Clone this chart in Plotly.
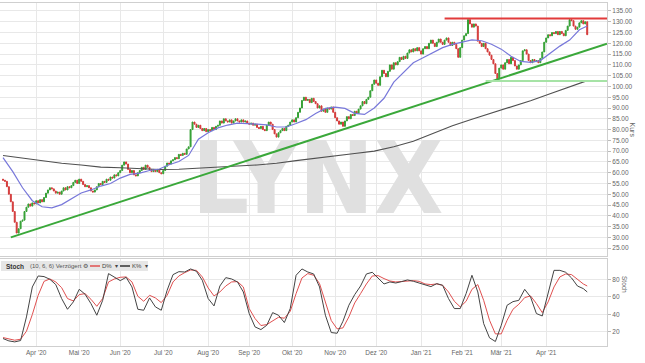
import plotly.graph_objects as go
import pandas as pd

# ---------------- data ----------------
start_date = "2020-03-09"
n_days = 300
closes = [
    56.5, 56, 53.5, 50, 46.5, 42, 37, 32, 34, 37.5,
    38, 42, 44, 45.5, 44.5, 46, 45.5, 47, 46, 47.5,
    46.5, 48.5, 50.5, 52, 53, 52.5, 51.5, 50.5, 51, 50,
    51.5, 53, 52, 53.5, 53, 54, 55.5, 56.5, 55, 57,
    56, 54.5, 53.5, 54, 53, 51.5, 51, 52, 53.5, 55,
    54.5, 56, 55.5, 57, 56.5, 58, 57.5, 59, 58.5, 60,
    61, 63.5, 65, 64, 61.5, 60, 61, 59, 58.5, 60,
    61, 62.5, 61.5, 63.5, 62.5, 61.5, 60.5, 61.5, 60.5, 61.5,
    60, 59.5, 61, 63, 64.5, 64, 65.5, 66, 67, 66.5,
    68.5, 68, 69, 68.5, 71, 72, 80, 83.5, 82.5, 81,
    82, 80.5, 79.5, 80.5, 79, 80, 79.5, 81, 80, 81.5,
    82, 84, 83, 85, 84, 83.5, 84.5, 83, 84, 85,
    84, 83.5, 84.5, 83.5, 84, 83, 82.5, 83, 82, 82.5,
    81, 80.5, 81.5, 80, 79.5, 82, 83.5, 82.5, 80, 78,
    76.5, 78.5, 79.5, 80.5, 79.5, 81.5, 82, 83.5, 84.5, 83.5,
    85.5, 88, 90, 93.5, 95, 93.5, 94, 92.5, 94.5, 93,
    92, 90, 91, 88.5, 89.5, 88, 90, 89.5, 90.5, 88,
    85.5, 84, 82.5, 83.5, 81.5, 84, 86, 85, 87, 86.5,
    88.5, 87.5, 89.5, 91, 93, 92, 94, 95, 98, 101,
    103, 101.5, 100.5, 104.5, 107.5, 106, 104.5, 107, 110, 108,
    111, 110, 111.5, 113.5, 112.5, 114, 113, 115.5, 117, 116,
    117.5, 116.5, 118, 116.5, 115, 117.5, 118.5, 117.5, 120, 121.5,
    120, 118.5, 120.5, 122, 120.5, 119.5, 121.5, 122.5, 120.5, 119,
    120.5, 119.5, 117.5, 113.5, 118, 121.5, 123.5, 124.5, 131, 129,
    127.5, 129, 128, 121, 120, 118.5, 120, 117.5, 116, 114.5,
    112.5, 110.5, 106, 103.5, 108.5, 110, 108, 111, 112.5, 110.5,
    113.5, 112, 109.5, 108, 110, 112, 116.5, 117, 115, 112,
    111, 112.5, 111.5, 112, 111, 113, 116, 120.5, 122.5, 124,
    123.5, 125, 124.5, 125.5, 124, 125.5, 124.5, 123.5, 126, 128,
    131, 130.5, 128, 126.5, 127.5, 129.5, 130.5, 129, 130, 124,
]
first_open = 57.0

# blue moving average, read every 5th trading day (+ last day)
ma_short = [67, 60.5, 53, 47, 44.2, 43.7, 45.2, 47.8, 50.6, 52,
            53.8, 55, 57.5, 59.2, 59.8, 61, 61.7, 63.7, 65.2, 68,
            75.5, 78.5, 80.8, 82.1, 83, 82.8, 82.6, 82.2, 81.2, 81.2,
            82.8, 84.6, 87.5, 89.8, 90.4, 89.8, 87.5, 87, 90, 94.5,
            102, 106.5, 111, 113.3, 115.7, 118, 119.5, 120.5, 121.6, 121.2,
            119.6, 117.3, 114, 111.6, 111.2, 112, 115.5, 118.7, 121.5, 126.3,
            128]
# black 200-day average, read every 10th trading day (+ last day)
ma_long = [68, 66.8, 65.4, 64.4, 63.6, 62.6, 62.3, 62, 61.5, 61.6,
           62, 62.6, 63.1, 63.6, 64.4, 65.6, 66.6, 67.8, 68.9, 70,
           72, 74.6, 78.3, 81.8, 84.8, 87.6, 90.5, 93.4, 96.6, 99.9,
           102.7]

# stochastic (10, 6, 6), read every 3rd trading day (+ last day)
stoch_k = [12.5, 9.8, 8.7, 10.2, 37.1, 71.2, 83.7, 83, 79.9, 73.9,
           58, 45.8, 54.2, 68.5, 62.9, 52.3, 39, 56, 86.4, 82.6,
           78.4, 82.2, 71.2, 45.8, 44.7, 58.7, 48.5, 44.7, 67.4, 85.2,
           88.6, 88.2, 91.7, 89, 78.8, 58, 49.6, 72.3, 81.8, 80.3,
           76.9, 65.5, 40.9, 25.7, 22.7, 27.6, 42, 39, 30.7, 46.6,
           84.5, 91.7, 88.2, 86, 71.2, 39, 19.3, 18.5, 32.2, 50.4,
           62.5, 72.3, 86, 87.9, 81.8, 74.6, 76.9, 75.7, 77.3, 79.2,
           77.7, 75.4, 73.9, 71.6, 75, 73.1, 58, 46.6, 46.6, 63.6,
           84.5, 65.5, 29.5, 13.3, 9.1, 27.6, 50.4, 54.5, 56, 68.5,
           59.8, 40.9, 38.2, 65.5, 90.1, 90.1, 87.9, 81.4, 72.3, 69.3,
           65.5]
stoch_d = [13.6, 12.1, 10.6, 11.7, 20.8, 39.8, 61.7, 77.6, 80.3, 76.9,
           70.4, 58, 55.3, 62.5, 63.6, 57.2, 49.2, 58, 76.9, 80.3,
           82.2, 82.6, 76.9, 60.6, 54.9, 61.7, 58.7, 53.4, 61.7, 76.9,
           83.7, 87.5, 90.5, 90.1, 82.6, 70.1, 61, 65.5, 72.3, 76.9,
           77.3, 71.2, 46.6, 35.2, 27.3, 28.4, 33, 36.7, 35.6, 43.5,
           63.6, 81.4, 86.4, 84.5, 75, 54.2, 33, 23.5, 24.6, 37.1,
           53, 63.6, 74.6, 83.7, 84.1, 80.7, 78, 76.9, 77.6, 77.6,
           78.4, 77.6, 74.6, 73.9, 74.6, 73.1, 65.5, 54.9, 48.5, 54.9,
           68.5, 73.9, 56, 33.3, 17.8, 17.8, 33.3, 45.8, 51.5, 59.1,
           61, 52.3, 42, 54.2, 71.2, 82.6, 86, 85.2, 79.9, 74.6,
           72.3]

trend_dates = ["2020-03-13", "2021-05-14 03:00"]
trend_vals = [30.0, 119.8]
resist_dates = ["2021-01-19", "2021-05-14 03:00"]
resist_vals = [131.5, 131.5]
support_dates = ["2021-02-17", "2021-05-14 03:00"]
support_vals = [102.5, 102.5]

month_labels = ["Apr '20", "Mai '20", "Jun '20", "Jul '20", "Aug '20", "Sep '20",
                "Okt '20", "Nov '20", "Dez '20", "Jan '21", "Feb '21", "Mär '21", "Apr '21"]
tick_months = pd.period_range("2020-04", "2021-04", freq="M")

# ---------------- derived ----------------
dates = pd.bdate_range(start_date, periods=n_days)
opens = [first_open] + closes[:-1]
highs = [max(o, c) for o, c in zip(opens, closes)]
lows = [min(o, c) for o, c in zip(opens, closes)]
x_short = list(dates[::5]) + [dates[-1]]
x_long = list(dates[::10]) + [dates[-1]]
x_stoch = list(dates[::3]) + [dates[-1]]
tickvals = [dates[dates >= p.start_time][0] for p in tick_months]

GREEN = "#35a035"
RED = "#d43a3a"
FONT = "Liberation Sans, Arial, sans-serif"
xrange = ["2020-03-05 11:00", "2021-05-14 03:00"]

fig = go.Figure()

# watermark
fig.add_trace(go.Scatter(
    x=[dates[161]], y=[53], mode="text", text=["LYNX"],
    textfont=dict(size=100, color="#e0e0e0", weight="bold",
                  family="Liberation Sans Narrow, DejaVu Sans Condensed, Liberation Sans"),
    hoverinfo="skip", showlegend=False, xaxis="x", yaxis="y"))

fig.add_trace(go.Scatter(x=x_long, y=ma_long, mode="lines",
                         line=dict(color="#505050", width=1.1), showlegend=False))
fig.add_trace(go.Scatter(x=trend_dates, y=trend_vals, mode="lines",
                         line=dict(color="#3aa83a", width=2), showlegend=False))
fig.add_trace(go.Scatter(x=support_dates, y=support_vals, mode="lines",
                         line=dict(color="#a6e3a6", width=2), showlegend=False))
fig.add_trace(go.Scatter(x=resist_dates, y=resist_vals, mode="lines",
                         line=dict(color="#e23b3b", width=2), showlegend=False))
fig.add_trace(go.Candlestick(
    x=dates, open=opens, high=highs, low=lows, close=closes,
    increasing=dict(line=dict(color=GREEN, width=1), fillcolor=GREEN),
    decreasing=dict(line=dict(color=RED, width=1), fillcolor=RED),
    whiskerwidth=0, showlegend=False, xaxis="x", yaxis="y"))
fig.add_trace(go.Scatter(x=x_short, y=ma_short, mode="lines",
                         line=dict(color="#7878da", width=1.2), showlegend=False))

# stochastic
fig.add_trace(go.Scatter(x=x_stoch, y=stoch_d, mode="lines", line=dict(color="#e05050", width=1),
                         showlegend=False, xaxis="x2", yaxis="y2"))
fig.add_trace(go.Scatter(x=x_stoch, y=stoch_k, mode="lines", line=dict(color="#444444", width=1),
                         showlegend=False, xaxis="x2", yaxis="y2"))

grid = "#e8e8e8"
axline = "#cfcfcf"
tickfont = dict(size=6.5, color="#666666", family=FONT)
common_x = dict(type="date", range=xrange, rangebreaks=[dict(bounds=["sat", "mon"])],
                tickvals=tickvals, ticktext=month_labels, showgrid=True, gridcolor=grid,
                gridwidth=1, showline=True, linecolor=axline, mirror=True, zeroline=False)

fig.update_layout(
    width=645, height=363, margin=dict(l=0, r=38, t=3, b=17),
    paper_bgcolor="white", plot_bgcolor="white",
    xaxis=dict(**common_x, domain=[0, 1], anchor="y", showticklabels=False,
               rangeslider=dict(visible=False)),
    xaxis2=dict(**common_x, domain=[0, 1], anchor="y2", showticklabels=True,
                tickfont=tickfont, ticks="", rangeslider=dict(visible=False)),
    yaxis=dict(domain=[0.262, 1], anchor="x", side="right", range=[21.3, 138.7],
               tick0=25, dtick=5, tickformat=".2f", showgrid=True, gridcolor=grid,
               showline=True, linecolor=axline, mirror=True, ticks="outside", ticklen=3,
               tickcolor="#bbbbbb", tickfont=tickfont, zeroline=False),
    yaxis2=dict(domain=[0, 0.2536], anchor="x2", side="right", range=[4, 103],
                tickvals=[20, 40, 60, 80], showgrid=True, gridcolor=grid,
                showline=True, linecolor=axline, mirror=True, ticks="outside", ticklen=3,
                tickcolor="#bbbbbb", tickfont=tickfont, zeroline=False),
    font=dict(family=FONT),
    hovermode=False,
)

W, H = 607.0, 343.0
def px(x):
    return x / W
def py(y):
    return (346 - y) / H

fig.add_annotation(x=px(638), y=py(130), xref="paper", yref="paper", text="Kurs",
                   textangle=90, showarrow=False, font=dict(size=7, color="#666666"))
fig.add_annotation(x=px(630), y=py(295), xref="paper", yref="paper", text="Stoch",
                   textangle=90, showarrow=False, font=dict(size=6.5, color="#666666"))

# stochastic legend bar
fig.add_shape(type="rect", xref="paper", yref="paper", x0=px(1), x1=px(148), y0=py(271), y1=py(261),
              fillcolor="#e6e6e6", line=dict(width=0), layer="above")
lab = dict(xref="paper", yref="paper", showarrow=False, xanchor="left", yanchor="middle")
fig.add_annotation(x=px(4), y=py(266), text="<b>Stoch</b>", font=dict(size=6.5, color="#333333"), **lab)
fig.add_annotation(x=px(28), y=py(266), text="(10, 6, 6) Verzögert ⚙", font=dict(size=6, color="#555555"), **lab)
fig.add_shape(type="line", xref="paper", yref="paper", x0=px(90), x1=px(100), y0=py(266), y1=py(266),
              line=dict(color="#e05050", width=1.5))
fig.add_annotation(x=px(100), y=py(266), text="D%  ▾", font=dict(size=6, color="#444444"), **lab)
fig.add_shape(type="line", xref="paper", yref="paper", x0=px(120), x1=px(130), y0=py(266), y1=py(266),
              line=dict(color="#333333", width=1.5))
fig.add_annotation(x=px(130), y=py(266), text="K%  ▾", font=dict(size=6, color="#444444"), **lab)

fig.write_html("out.html", config={"displayModeBar": False},
               post_script="document.body.style.margin='0px';")
